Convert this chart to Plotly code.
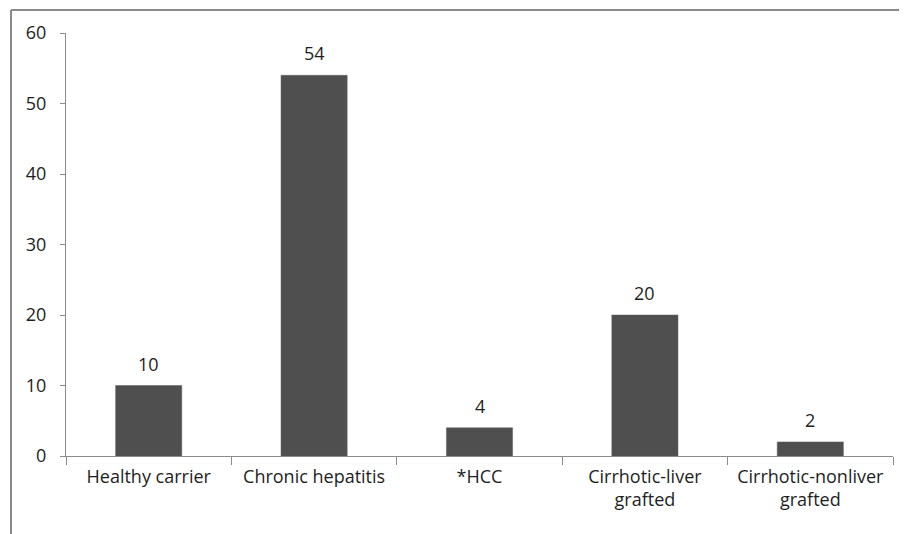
import plotly.graph_objects as go

categories = ["Healthy carrier", "Chronic hepatitis", "*HCC",
              "Cirrhotic-liver<br>grafted", "Cirrhotic-nonliver<br>grafted"]
values = [10, 54, 4, 20, 2]
y_ticks = [0, 10, 20, 30, 40, 50, 60]

FONT = "Open Sans"
AXIS = "#8c8c8c"
TXT = "#1e1e1e"

# page body has an 8px default margin; figure sized to fit the window
W, H = 899, 526
L, R, T, B = 58, 14, 25, 78
PW, PH = W - L - R, H - T - B

fig = go.Figure()
fig.add_trace(go.Bar(
    x=categories, y=values, width=0.4,
    marker=dict(color="#4f4f4f", line=dict(color="#5e5e5e", width=0.5)),
    hoverinfo="x+y",
))

for c, v in zip(categories, values):
    fig.add_annotation(x=c, y=v, text=str(v), showarrow=False,
                       yanchor="bottom", yshift=8,
                       font=dict(family=FONT, size=18, color=TXT))

# outer frame (top and left edges of the original chart border)
fx = (3 - L) / PW
fy = (H - B - 2) / PH
fig.add_shape(type="line", xref="paper", yref="paper",
              x0=fx, x1=1.1, y0=fy, y1=fy,
              line=dict(color="#8a8a8a", width=2))
fig.add_shape(type="line", xref="paper", yref="paper",
              x0=fx, x1=fx, y0=-0.3, y1=fy,
              line=dict(color="#8a8a8a", width=2))

fig.update_layout(
    width=W, height=H,
    margin=dict(l=L, r=R, t=T, b=B, autoexpand=False),
    paper_bgcolor="white", plot_bgcolor="white",
    showlegend=False,
    font=dict(family=FONT, size=18, color=TXT),
)
fig.update_xaxes(
    type="category", showline=True, linecolor=AXIS, linewidth=1,
    ticks="outside", tickson="boundaries", ticklen=8, tickcolor=AXIS,
    ticklabelstandoff=4,
    tickfont=dict(family=FONT, size=18, color=TXT),
    showgrid=False, zeroline=False, fixedrange=True, automargin=False,
)
fig.update_yaxes(
    range=[0, 60], tickvals=y_ticks, showline=True, linecolor=AXIS, linewidth=1,
    ticks="outside", ticklen=5, tickcolor=AXIS, ticklabelstandoff=10,
    tickfont=dict(family=FONT, size=18, color=TXT),
    showgrid=False, zeroline=False, fixedrange=True, automargin=False,
)

fig.write_html("out.html")
